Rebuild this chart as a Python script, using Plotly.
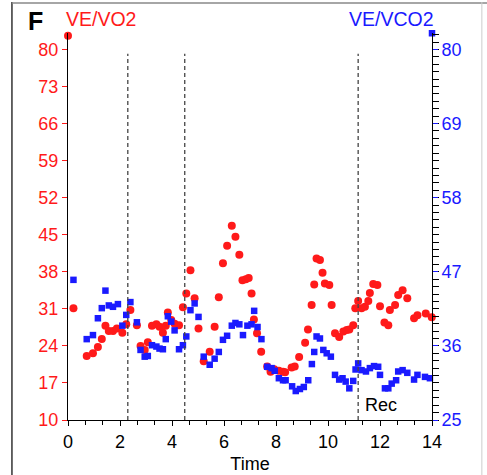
import plotly.graph_objects as go

# ---- data ----
ve_vo2_time = [0.0, 0.21, 0.72, 0.96, 1.15, 1.30, 1.44, 1.57, 1.73, 1.88, 2.09, 2.24, 2.40, 2.65, 2.79,
               2.95, 3.07, 3.23, 3.40, 3.52, 3.65, 3.76, 3.84, 3.97, 4.10, 4.27, 4.42, 4.55, 4.71, 4.87,
               5.02, 5.22, 5.45, 5.64, 5.80, 5.96, 6.12, 6.30, 6.44, 6.59, 6.71, 6.84, 6.95, 7.06, 7.15,
               7.27, 7.43, 7.66, 7.79, 7.93, 8.11, 8.27, 8.35, 8.60, 8.72, 8.89, 9.12, 9.23, 9.37, 9.47,
               9.56, 9.69, 9.79, 9.88, 10.05, 10.14, 10.27, 10.43, 10.59, 10.72, 10.82, 10.97, 11.05,
               11.16, 11.29, 11.42, 11.55, 11.61, 11.74, 11.90, 12.00, 12.17, 12.32, 12.38, 12.58,
               12.70, 12.87, 13.05, 13.31, 13.44, 13.76, 13.99]
ve_vo2 = [82.6, 31.1, 22.1, 22.6, 23.8, 25.3, 27.8, 26.8, 26.8, 27.3, 26.5, 28.1, 30.8, 27.9, 24.0,
          23.2, 24.7, 27.8, 28.1, 27.6, 26.5, 27.8, 30.3, 28.9, 28.2, 27.9, 31.3, 33.9, 38.3, 33.0,
          27.3, 21.1, 22.9, 27.6, 33.2, 39.6, 42.9, 46.7, 44.6, 41.2, 36.4, 36.6, 36.8, 33.9, 29.0,
          26.4, 22.9, 20.1, 19.1, 19.6, 19.3, 19.1, 19.0, 19.9, 20.1, 21.9, 24.6, 27.1, 31.7, 35.6,
          40.5, 40.2, 37.8, 35.8, 35.5, 31.7, 26.4, 25.7, 26.7, 27.0, 27.1, 27.9, 31.1,
          32.5, 31.1, 31.4, 32.5, 34.0, 35.7, 35.5, 31.5, 28.4, 27.9, 30.8, 31.7,
          33.6, 34.5, 33.0, 29.2, 29.8, 30.1, 29.4]

ve_vco2_time = [0.21, 0.72, 0.96, 1.15, 1.30, 1.44, 1.57, 1.73, 1.92, 2.09, 2.24, 2.40, 2.65, 2.79, 2.95,
                3.07, 3.23, 3.40, 3.52, 3.65, 3.76, 3.84, 3.97, 4.10, 4.27, 4.42, 4.55, 4.71, 4.87, 5.02,
                5.22, 5.45, 5.64, 5.80, 5.96, 6.12, 6.30, 6.44, 6.59, 6.73, 6.90, 7.06, 7.16, 7.29, 7.44,
                7.66, 7.83, 7.95, 8.11, 8.27, 8.37, 8.62, 8.76, 8.92, 9.07, 9.24, 9.38, 9.47, 9.56, 9.69,
                9.82, 9.95, 10.11, 10.27, 10.43, 10.56, 10.68, 10.82, 10.97, 11.06, 11.16, 11.29, 11.46,
                11.61, 11.77, 11.93, 12.00, 12.19, 12.32, 12.45, 12.62, 12.70, 12.87, 13.05, 13.31,
                13.44, 13.73, 13.92, 14.0]
ve_vco2 = [45.8, 37.0, 37.6, 40.1, 41.6, 44.2, 42.0, 41.8, 42.2, 39.0, 40.6, 42.5, 39.5, 35.4, 34.4,
           34.5, 36.1, 35.9, 35.6, 35.5, 37.0, 40.4, 39.6, 38.3, 35.5, 36.1, 37.4, 41.3, 42.3, 40.3,
           34.4, 33.2, 34.1, 35.1, 36.9, 37.5, 39.0, 39.4, 39.2, 37.6, 39.0, 39.2, 41.2, 38.8, 37.0,
           32.9, 32.7, 32.3, 31.2, 30.9, 30.9, 30.0, 29.3, 29.6, 29.9, 30.9, 33.3, 35.1, 37.4, 37.1,
           35.4, 34.9, 34.4, 31.7, 31.0, 31.2, 30.7, 29.7, 30.8, 32.5, 33.4, 32.4, 32.2,
           32.7, 33.0, 32.9, 31.7, 29.7, 29.7, 30.4, 30.9, 32.2, 32.4, 32.0, 31.0,
           31.7, 31.4, 31.2, 82.4]

left_ticks = [10, 17, 24, 31, 38, 45, 52, 59, 66, 73, 80]
right_ticks = [25, 36, 47, 58, 69, 80]
x_ticks = [0, 2, 4, 6, 8, 10, 12, 14]
phase_times = [2.30, 4.49, 11.16]
phase_label = "Rec"

RED = "#ff1a1a"
BLUE = "#1a1aff"
FONT = "Liberation Sans, Arial, sans-serif"

left_range = [10, 83.1]
right_range = [25, 25 + (left_range[1] - 10) * 11 / 14]

fig = go.Figure()
fig.add_trace(go.Scatter(x=ve_vo2_time, y=ve_vo2, mode="markers", yaxis="y",
                         marker=dict(symbol="circle", size=8, color=RED),
                         cliponaxis=False, showlegend=False))
fig.add_trace(go.Scatter(x=ve_vco2_time, y=ve_vco2, mode="markers", yaxis="y2",
                         marker=dict(symbol="square", size=6.5, color=BLUE),
                         cliponaxis=False, showlegend=False))

shapes = []
for t in phase_times:
    shapes.append(dict(type="line", xref="x", yref="y", x0=t, x1=t, y0=10, y1=79.2,
                       line=dict(color="#444444", width=1.3, dash="4px,3px")))
# outer panel frame
shapes.append(dict(type="line", xref="paper", yref="paper", x0=-0.154, x1=-0.154, y0=-0.15, y1=1.08,
                   line=dict(color="#333333", width=1.5)))
shapes.append(dict(type="line", xref="paper", yref="paper", x0=-0.154, x1=1.2, y0=1.0775, y1=1.0775,
                   line=dict(color="#888888", width=1.5)))
shapes.append(dict(type="line", xref="paper", yref="paper", x0=1.137, x1=1.137, y0=-0.15, y1=1.08,
                   line=dict(color="#cccccc", width=1)))

fig.update_layout(
    width=487, height=475,
    margin=dict(l=68, r=55, t=33, b=55, autoexpand=False),
    paper_bgcolor="white", plot_bgcolor="white",
    font=dict(family=FONT, size=18, color="black"),
    shapes=shapes,
    xaxis=dict(range=[0, 14], tickvals=x_ticks, ticks="outside", ticklen=5, tickcolor="black",
               showline=True, linecolor="black", linewidth=1, showgrid=False, zeroline=False,
               tickfont=dict(size=18, color="black"), automargin=False,
               minor=dict(dtick=2/3, tick0=0, ticks="outside", ticklen=4, tickcolor="black"),
               title=dict(text="Time", font=dict(size=18), standoff=6)),
    yaxis=dict(range=left_range, tickvals=left_ticks, ticks="outside", ticklen=5, tickcolor=RED,
               showline=True, linecolor="black", linewidth=1, showgrid=False, zeroline=False,
               tickfont=dict(size=18, color=RED), ticklabelstandoff=0, automargin=False),
    yaxis2=dict(range=right_range, tickvals=right_ticks, ticks="outside", ticklen=5, tickcolor=BLUE,
                overlaying="y", side="right", automargin=False,
                showline=True, linecolor="black", linewidth=1, showgrid=False, zeroline=False,
                tickfont=dict(size=18, color=BLUE), ticklabelstandoff=0,
                minor=dict(dtick=1.1, tick0=25, ticks="outside", ticklen=6, tickcolor="black",
                           tickwidth=1.3)),
    annotations=[
        dict(text="<b>F</b>", xref="paper", yref="paper", x=-0.088, y=1.03, showarrow=False,
             font=dict(size=25, color="black"), xanchor="center", yanchor="middle"),
        dict(text="VE/VO2", xref="paper", yref="paper", x=-0.012, y=1.035, showarrow=False,
             font=dict(size=19.5, color=RED), xanchor="left", yanchor="middle"),
        dict(text="VE/VCO2", xref="paper", yref="paper", x=1.01, y=1.035, showarrow=False,
             font=dict(size=19.5, color=BLUE), xanchor="right", yanchor="middle"),
        dict(text=phase_label, xref="x", yref="y", x=12.04, y=12.9, showarrow=False,
             font=dict(size=18, color="black"), xanchor="center", yanchor="middle"),
    ],
)

fig.write_html("out.html")
